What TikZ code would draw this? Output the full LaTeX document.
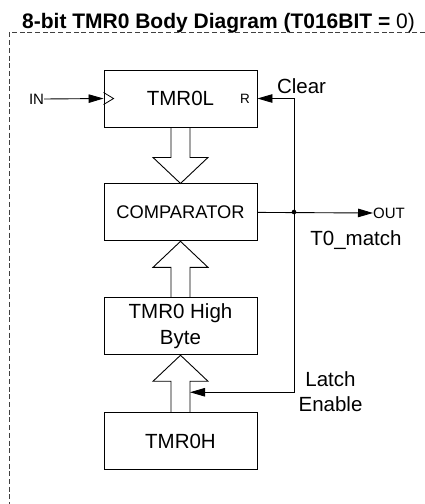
\documentclass[tikz,border=0pt]{standalone}
\usepackage{fontspec}
\setmainfont{Liberation Sans}
\usetikzlibrary{arrows.meta,positioning,calc}

\begin{document}
\begin{tikzpicture}[x=1pt,y=-1pt,box/.style={draw,line width=0.9pt,minimum width=153pt,minimum height=57pt,inner sep=0pt,align=center,font=\fontsize{20.5}{26}\selectfont},sig/.style={-{Triangle[length=15pt,width=8.5pt]},line width=0.9pt},bus/.style={line width=0.9pt,line join=miter},lbl/.style={font=\fontsize{20.5}{25}\selectfont,align=center,inner sep=0pt},sml/.style={font=\fontsize{15}{18}\selectfont,inner sep=0pt}]
\useasboundingbox (0,0) rectangle (425,504);
\node[font=\fontsize{21}{25}\selectfont,anchor=base,inner sep=0pt] (title) at (218.5,28) {\textbf{8-bit TMR0 Body Diagram (T016BIT = }0)};
\draw[dashed,dash pattern=on 5pt off 2.7pt,line width=0.8pt,black!75] (425,32.3) -- (9.3,32.3) -- (9.3,504);
\node[box] (tmrl) at (180.5,98.5) {TMR0L};
\node[box,below=56pt of tmrl,font=\fontsize{18.3}{22}\selectfont] (cmp) {COMPARATOR};
\node[box,below=56pt of cmp] (hreg) {TMR0 High\\Byte};
\node[box,below=57pt of hreg] (tmrh) {TMR0H};
% clock input and reset
\draw[line width=0.8pt] ($(tmrl.west)+(0,-6)$) -- ++(10,6) -- ++(-10,6);
\node[font=\fontsize{13.5}{16}\selectfont,inner sep=0pt] (rst) at (245,99) {R};
\node[sml] (in) at (36.5,99) {IN};
\draw[sig] (in.east) -- (tmrl.west);
% bus arrows
\draw[bus] ($(tmrl.south)+(-9.5,0)$) |- ($(cmp.north)+(-27.5,-26)$) -- (cmp.north) -- ++(27.5,-26) -- ++(-18,0) -- ($(tmrl.south)+(9.5,0)$);
\draw[bus] ($(hreg.north)+(-9.5,0)$) |- ($(cmp.south)+(-27.5,26)$) -- (cmp.south) -- ++(27.5,26) -- ++(-18,0) -- ($(hreg.north)+(9.5,0)$);
\draw[bus] ($(tmrh.north)+(-9.5,0)$) |- ($(hreg.south)+(-27.5,26)$) -- (hreg.south) -- ++(27.5,26) -- ++(-18,0) -- ($(tmrh.north)+(9.5,0)$);
% match output
\coordinate (jn) at (294,212);
\coordinate (le) at ($(tmrh.north)+(9.5,-20)$);
\node[sml,anchor=west] (out) at (373,213) {OUT};
\draw[sig] (cmp.east) -- (out.west);
\fill (jn) circle (2.3pt);
\draw[sig] (jn) |- (tmrl.east);
\draw[sig] (jn) |- (le);
\node[lbl] (clr) at (301.5,86) {Clear};
\node[lbl] (match) at (356,240) {T0\_match};
\node[lbl] (latch) at (330.5,391.5) {Latch\\Enable};
\end{tikzpicture}
\end{document}
